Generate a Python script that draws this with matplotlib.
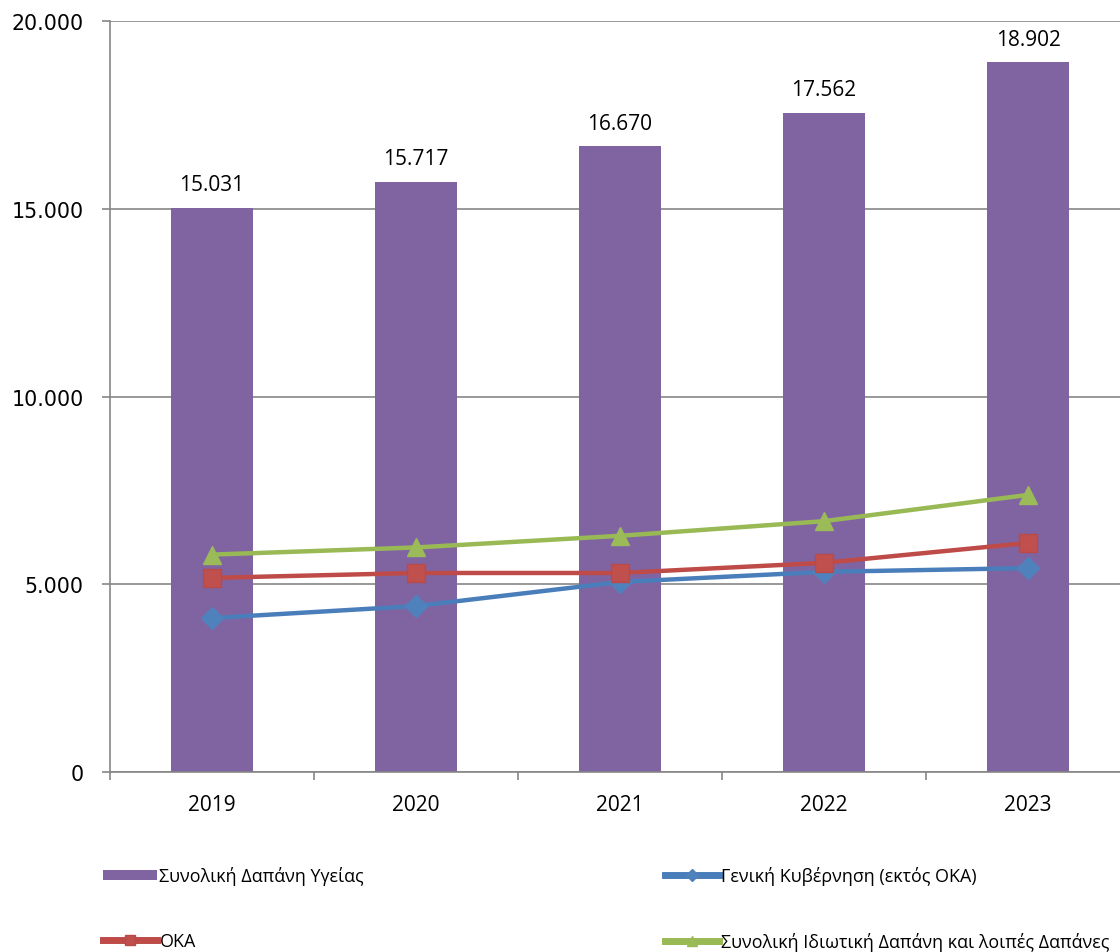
import matplotlib
matplotlib.use("Agg")
import matplotlib.pyplot as plt
import numpy as np

years = ["2019", "2020", "2021", "2022", "2023"]
total_health = [15031, 15717, 16670, 17562, 18902]
general_gov = [4100, 4420, 5060, 5330, 5430]
oka = [5170, 5300, 5300, 5570, 6100]
private = [5790, 5980, 6290, 6680, 7380]

label_total = "Συνολική Δαπάνη Υγείας"
label_gov = "Γενική Κυβέρνηση (εκτός ΟΚΑ)"
label_oka = "ΟΚΑ"
label_priv = "Συνολική Ιδιωτική Δαπάνη και λοιπές Δαπάνες"

FONT = ["Open Sans", "DejaVu Sans"]

def fmt(v):
    return f"{v:,.0f}".replace(",", ".")

W, H = 1120, 953
fig = plt.figure(figsize=(W / 100, H / 100), dpi=100)
ax = fig.add_axes([110 / W, (H - 773) / H, 1020 / W, 751 / H])

x = np.arange(len(years))
bars = ax.bar(x, total_health, width=0.4, color="#8064A2", zorder=2, label=label_total)
for xi, v in zip(x, total_health):
    ax.annotate(fmt(v), (xi, v), xytext=(0, 9), textcoords="offset points",
                ha="center", va="bottom", fontsize=15, family=FONT, color="black")

lg, = ax.plot(x, general_gov, color="#4A7EBB", lw=3.2, marker="D", markersize=11,
              markerfacecolor="#4F81BD", markeredgecolor="#4F81BD", zorder=3, label=label_gov)
lo, = ax.plot(x, oka, color="#BE4B48", lw=3.2, marker="s", markersize=13,
              markerfacecolor="#C0504D", markeredgecolor="#B84A47", zorder=4, label=label_oka)
lp, = ax.plot(x, private, color="#98B954", lw=3.2, marker="^", markersize=13,
              markerfacecolor="#9BBB59", markeredgecolor="#9BBB59", zorder=5, label=label_priv)

ax.set_xlim(-0.5, len(years) - 0.5)
ax.set_ylim(0, 20000)
ax.set_yticks([0, 5000, 10000, 15000, 20000])
ax.set_yticklabels([fmt(v) for v in [0, 5000, 10000, 15000, 20000]], fontsize=14.8)
ax.yaxis.grid(True, color="#868686", lw=1.2, zorder=0)
ax.set_axisbelow(True)

ax.set_xticks(x)
ax.set_xticklabels(years, fontsize=15, family=FONT)
ax.tick_params(axis="x", which="major", length=0, pad=16)
ax.set_xticks(np.arange(len(years) + 1) - 0.5, minor=True)
ax.tick_params(axis="x", which="minor", length=6, color="#868686", width=1.2, direction="out")
ax.tick_params(axis="y", length=6, color="#868686", width=1.2, direction="out", pad=13)

for s in ["top", "right"]:
    ax.spines[s].set_visible(False)
for s in ["left", "bottom"]:
    ax.spines[s].set_color("#868686")
    ax.spines[s].set_linewidth(1.2)

leg_kw = dict(loc="upper left", frameon=False, borderpad=0, borderaxespad=0,
              prop={"family": FONT, "size": 12.9}, handlelength=3.0, handletextpad=0.15,
              handleheight=0.48, labelspacing=2.6, markerscale=0.6)
leg1 = fig.legend([bars, lo], [label_total, label_oka],
                  bbox_to_anchor=(103 / W, 1 - 867 / H), **leg_kw)
leg2 = fig.legend([lg, lp], [label_gov, label_priv],
                  bbox_to_anchor=(665 / W, 1 - 867 / H), **leg_kw)
for lg_ in (leg1, leg2):
    for h in lg_.legend_handles:
        if hasattr(h, "set_linewidth") and not hasattr(h, "get_width"):
            h.set_linewidth(5)

fig.savefig("out.png", dpi=100)
